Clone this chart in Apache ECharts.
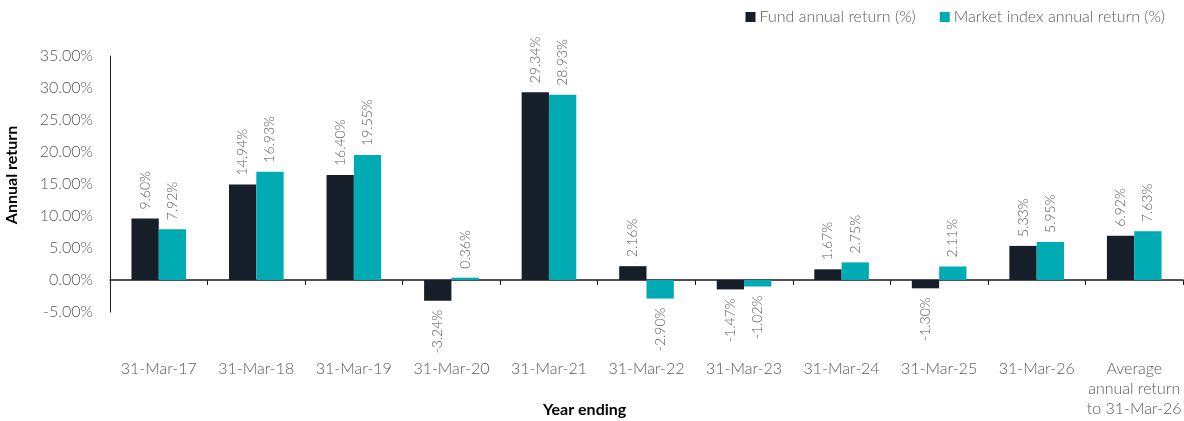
<!DOCTYPE html>
<html>
<head>
<meta charset="utf-8">
<script src="https://cdn.jsdelivr.net/npm/echarts@6/dist/echarts.min.js"></script>
<style>
  html, body { margin: 0; padding: 0; background: #fff; }
  #chart { width: 1184px; height: 421px; }
</style>
</head>
<body>
<div id="chart"></div>
<script>
// categories along the x axis
var categories = ['31-Mar-17', '31-Mar-18', '31-Mar-19', '31-Mar-20', '31-Mar-21', '31-Mar-22',
  '31-Mar-23', '31-Mar-24', '31-Mar-25', '31-Mar-26', 'Average\nannual return\nto 31-Mar-26']
// series values (%)
var fundReturns = [9.60, 14.94, 16.40, -3.24, 29.34, 2.16, -1.47, 1.67, -1.30, 5.33, 6.92]
var indexReturns = [7.92, 16.93, 19.55, 0.36, 28.93, -2.90, -1.02, 2.75, 2.11, 5.95, 7.63]
var seriesNames = ['Fund annual return (%)', 'Market index annual return (%)']

var FONT = 'Lato, "Noto Sans", sans-serif'
var GREY = '#595959'

// vertical label above positive bars, below negative ones
function withLabels(values) {
  return values.map(function (v) {
    var neg = v < 0
    return {
      value: v,
      label: {
        show: true,
        position: neg ? 'bottom' : 'top',
        rotate: 90,
        align: neg ? 'right' : 'left',
        verticalAlign: 'middle',
        distance: 9,
        color: GREY,
        fontFamily: FONT,
        fontWeight: 300,
        fontSize: 14,
        formatter: function (p) { return p.value.toFixed(2) + '%' }
      }
    }
  })
}

var myChart = echarts.init(document.getElementById('chart'))

var options = {
  animation: false,
  textStyle: { fontFamily: FONT },
  title: {
    text: 'Year ending',
    left: 543,
    top: 402,
    padding: 0,
    textStyle: { fontFamily: FONT, fontSize: 16, fontWeight: 'bold', color: '#000' }
  },
  legend: {
    data: seriesNames,
    right: 14,
    top: 4,
    itemWidth: 10,
    itemHeight: 10,
    itemGap: 24,
    icon: 'rect',
    textStyle: { fontFamily: FONT, fontWeight: 300, fontSize: 16, color: GREY, padding: [0, 0, 0, -1] }
  },
  grid: { left: 110, right: 1, top: 56, bottom: 109, containLabel: false, outerBoundsMode: 'none' },
  xAxis: {
    type: 'category',
    data: categories,
    axisLine: { onZero: true, lineStyle: { color: '#1a1a1a', width: 1.5 } },
    axisTick: { show: true, length: 5, lineStyle: { color: '#1a1a1a' } },
    axisLabel: {
      margin: 47,
      color: GREY,
      fontFamily: FONT,
      fontWeight: 300,
      fontSize: 16,
      lineHeight: 20,
      interval: 0
    },
    splitLine: { show: false }
  },
  yAxis: {
    type: 'value',
    min: -5,
    max: 35,
    interval: 5,
    name: 'Annual return',
    nameLocation: 'middle',
    nameGap: 90,
    nameTextStyle: { fontFamily: FONT, fontSize: 16, fontWeight: 'bold', color: '#000', padding: [0, 0, 0, 18] },
    axisLine: { show: true, lineStyle: { color: '#1a1a1a', width: 1 } },
    axisTick: { show: false },
    splitLine: { show: false },
    axisLabel: {
      margin: 17,
      color: GREY,
      fontFamily: FONT,
      fontWeight: 300,
      fontSize: 16,
      formatter: function (v) { return v.toFixed(2) + '%' }
    }
  },
  series: [{
    name: seriesNames[0],
    type: 'bar',
    barGap: 0,
    barCategoryGap: '44%',
    itemStyle: { color: '#161f29' },
    data: withLabels(fundReturns)
  }, {
    name: seriesNames[1],
    type: 'bar',
    barGap: 0,
    barCategoryGap: '44%',
    itemStyle: { color: '#00abb3' },
    data: withLabels(indexReturns)
  }]
}

myChart.setOption(options)
</script>
</body>
</html>
